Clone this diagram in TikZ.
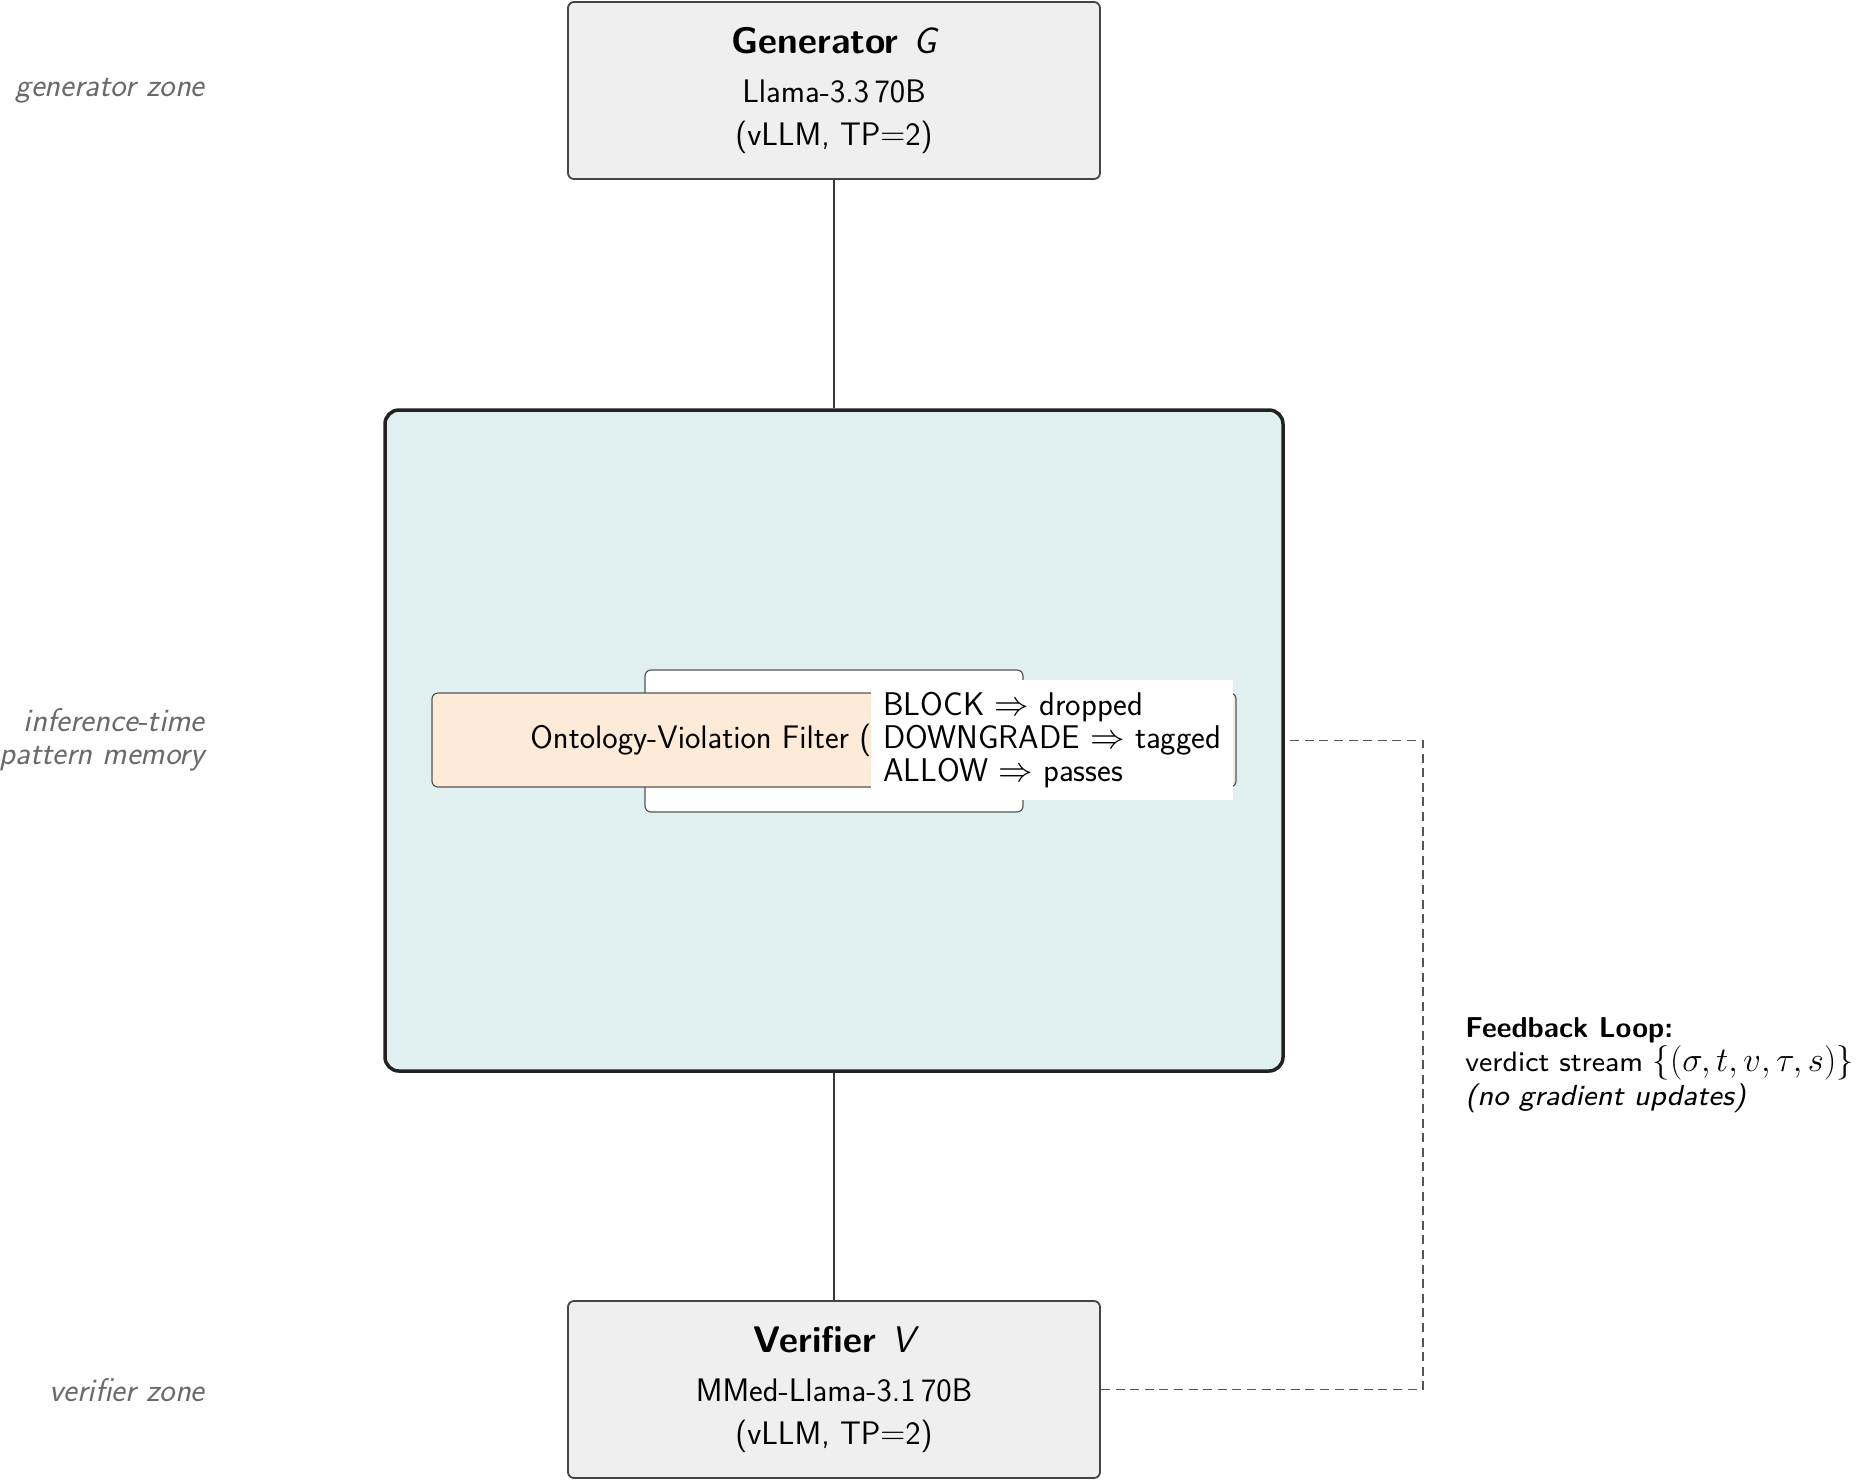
\documentclass[tikz,border=0pt]{standalone}
\usepackage{graphicx}
\usetikzlibrary{calc}
\definecolor{boxgray}{HTML}{EFEFEF}
\definecolor{boxline}{HTML}{444444}
\definecolor{panelfill}{HTML}{E0EFEF}
\definecolor{panelline}{HTML}{222222}
\definecolor{filterfill}{HTML}{FDEBD7}
\definecolor{zonegray}{HTML}{6A6A6A}
\definecolor{dashgray}{HTML}{555555}
\begin{document}
\begin{tikzpicture}[x=0.5pt,y=-0.5pt,font=\sffamily\fontsize{16.3}{19.5}\selectfont]
\tikzset{
  model/.style={draw=boxline,fill=boxgray,line width=0.9pt,rounded corners=3pt,
    minimum width=266pt,minimum height=88.5pt,align=center,inner sep=0pt},
  panel/.style={draw=panelline,fill=panelfill,line width=1.75pt,rounded corners=7pt,
    minimum width=449pt,minimum height=330.5pt,inner sep=0pt},
  backbox/.style={draw=dashgray,fill=white,line width=0.6pt,rounded corners=3pt,
    minimum width=189pt,minimum height=71pt,inner sep=0pt},
  filterbox/.style={draw=dashgray,fill=filterfill,line width=0.6pt,rounded corners=3pt,
    minimum width=402pt,minimum height=47pt,inner sep=0pt},
  verdictlabel/.style={fill=white,align=left,inner xsep=6pt,inner ysep=6pt,
    font=\sffamily\fontsize{16.4}{16.5}\selectfont},
  zone/.style={text=zonegray,font=\sffamily\itshape\fontsize{16.4}{16.5}\selectfont,
    align=right,anchor=east,inner sep=0pt},
  link/.style={draw=panelline!90,line width=1pt},
  fbline/.style={draw=dashgray,line width=0.9pt,dash pattern=on 4.5pt off 2.8pt},
}
\newcommand{\modeltitle}[2]{{\fontsize{18.5}{22}\selectfont\bfseries #1\hspace{0.4em}\mdseries\itshape #2}}
\newcommand{\widetext}[2]{\scalebox{2.1}{\fontsize{#1}{8}\selectfont #2}}
\useasboundingbox (0,0) rectangle (1858,1480);

% zone labels
\node[zone] (zgen) at (205,91) {generator zone};
\node[zone] (zmem) at (205,740) {inference-time\\pattern memory};
\node[zone] (zver) at (205,1390) {verifier zone};

% generator
\node[model] (gen) at (834,90.5) {\modeltitle{Generator}{G}\\[5pt]
  Llama-3.3\,70B\\[2pt] (vLLM, TP$=$2)};

% memory panel
\node[panel] (mem) at (834,740.5) {};
\node[backbox] (back) at (834,741) {};
\node[filterbox] (ovf) at (834,740) {};
\node[anchor=west,inner sep=0pt] (ovftext) at (530,740) {Ontology-Violation Filter (};
\node[verdictlabel,anchor=west] (verdict) at (871,740) {BLOCK $\Rightarrow$ dropped\\DOWNGRADE $\Rightarrow$ tagged\\ALLOW $\Rightarrow$ passes};

% verifier
\node[model] (ver) at (834,1389.5) {\modeltitle{Verifier}{V}\\[5pt]
  MMed-Llama-3.1\,70B\\[2pt] (vLLM, TP$=$2)};

% connectors
\draw[link] (gen.south) -- (mem.north);
\draw[link] (mem.south) -- (ver.north);
\coordinate (fb) at (1423,740.5);
\draw[fbline] (ver.east) -| (fb) -- (mem.east);

% feedback label
\node[anchor=west,align=left,inner sep=0pt,font=\sffamily\fontsize{15}{17}\selectfont] (fblabel) at (1465,1065)
  {{\fontsize{14.4}{17}\selectfont\bfseries Feedback Loop:}\\
   \widetext{6.7}{verdict stream}\ {\fontsize{17.8}{17}\selectfont$\{(\sigma,t,v,\tau,s)\}$}\\
   \widetext{6.9}{\itshape (no gradient updates)}};
\end{tikzpicture}
\end{document}
